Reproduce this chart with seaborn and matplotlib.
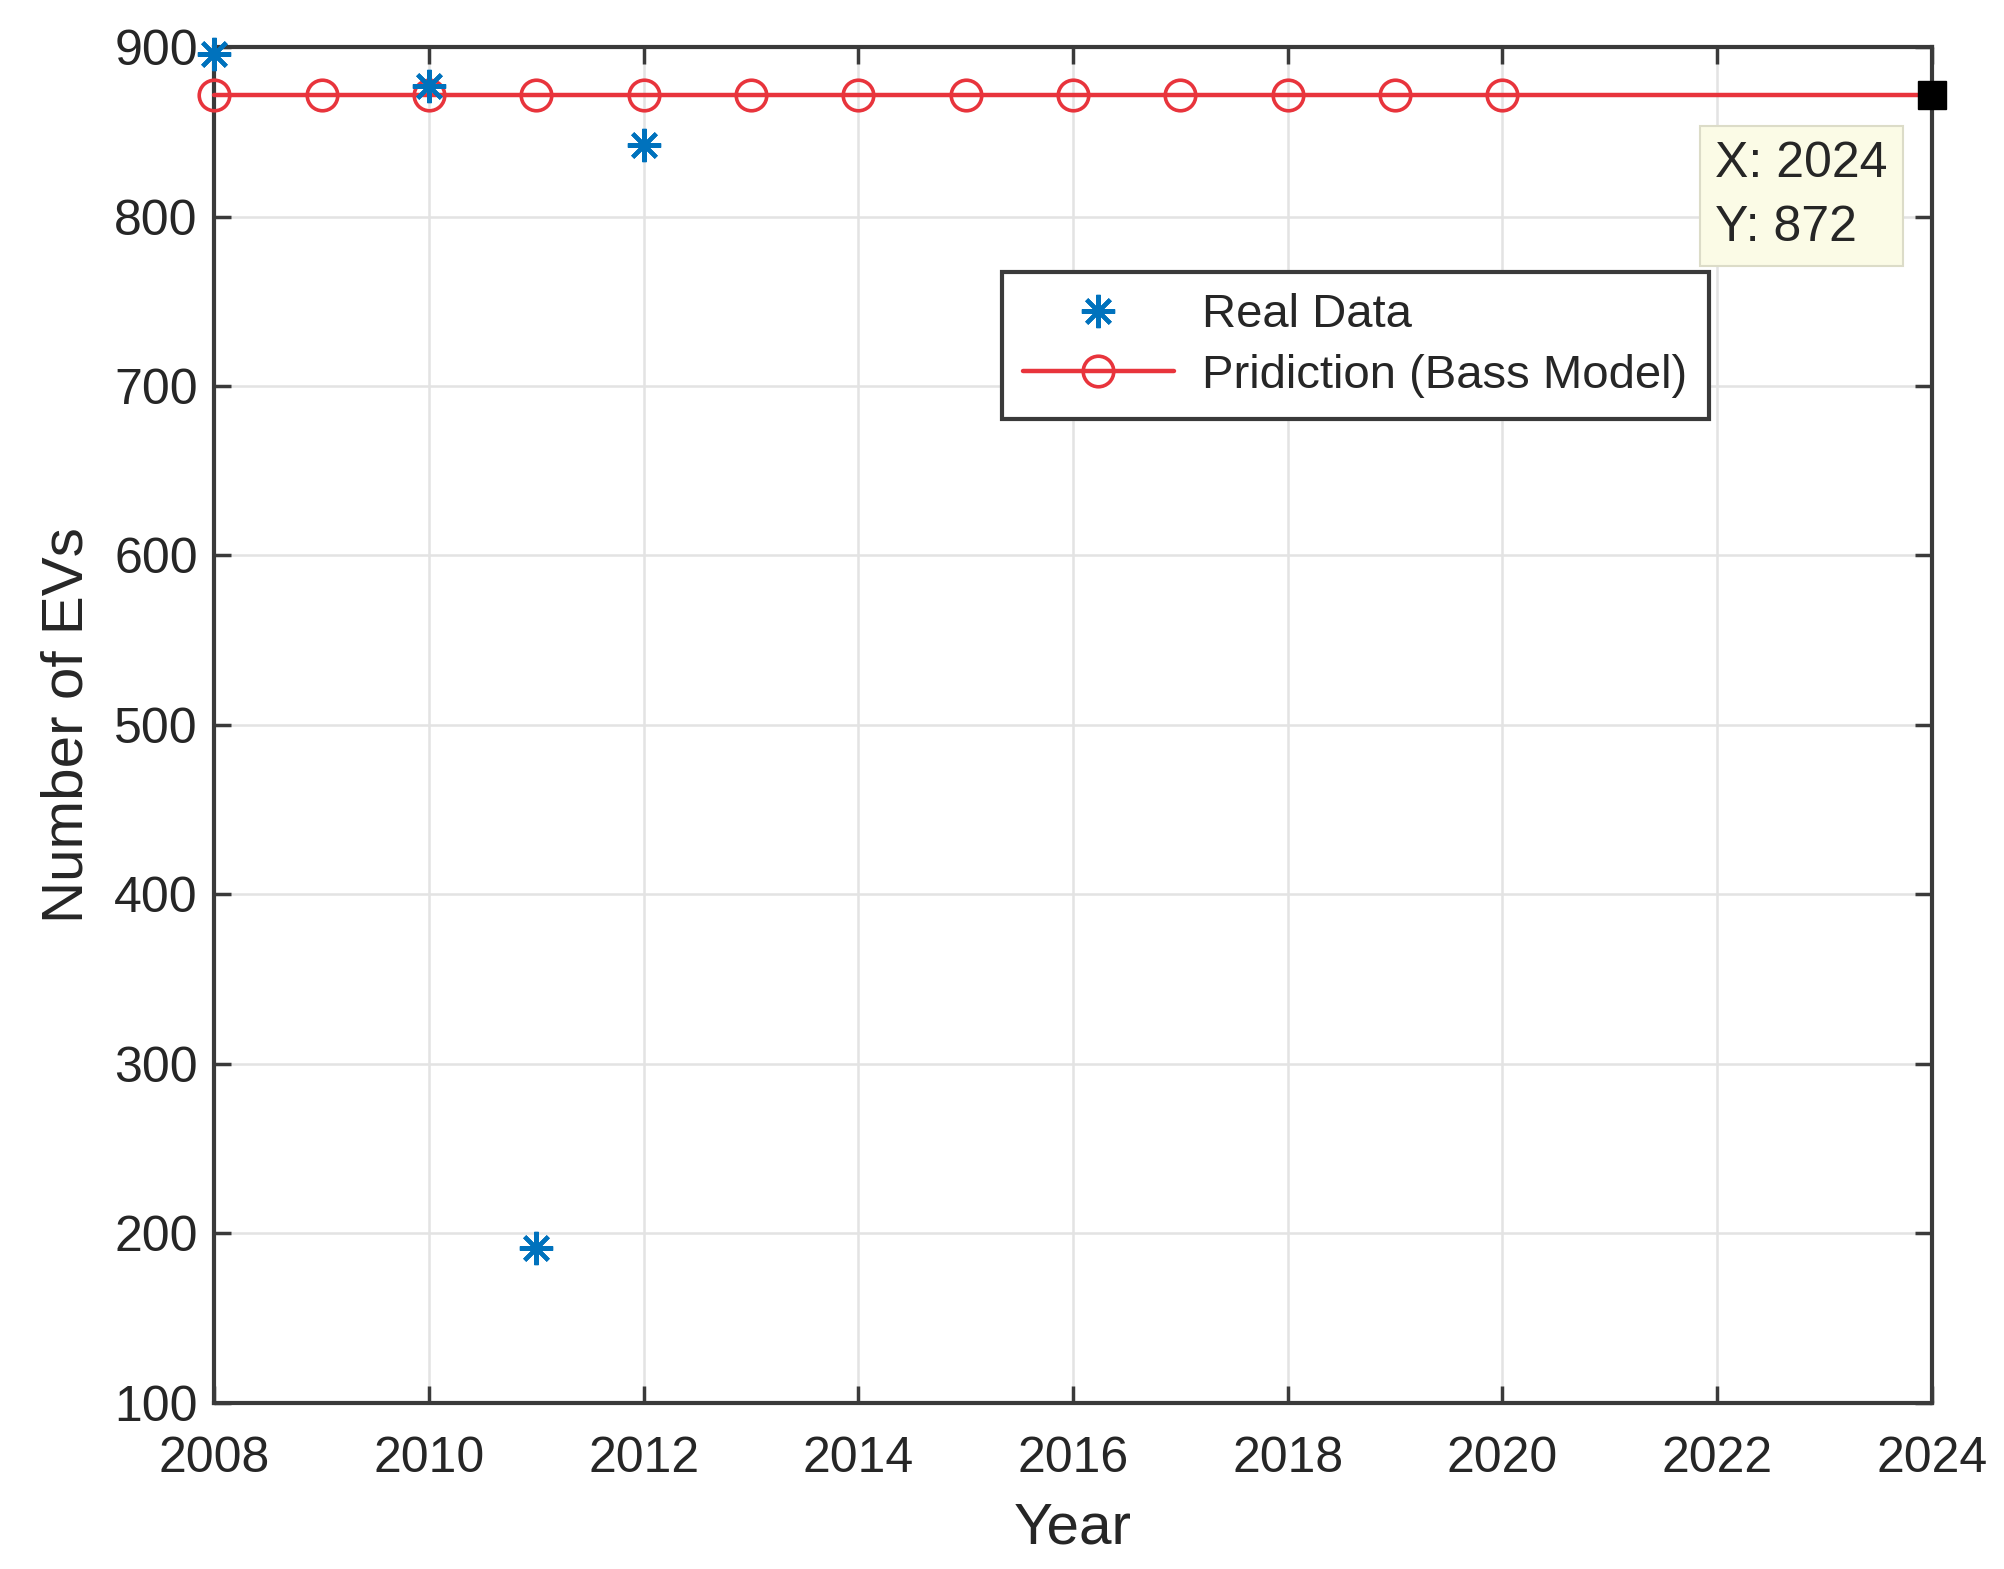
import numpy as np
import pandas as pd
import matplotlib
matplotlib.use("Agg")
import matplotlib.pyplot as plt
import seaborn as sns

# Data
real_years = [2008, 2010, 2011, 2012]
real_values = [896, 877, 191, 842]

pred_years = list(range(2008, 2025))
pred_values = [872] * len(pred_years)
pred_marker_years = list(range(2008, 2021))

tip_x, tip_y = 2024, 872

real_df = pd.DataFrame({"Year": real_years, "EVs": real_values})
pred_df = pd.DataFrame({"Year": pred_years, "EVs": pred_values})

sns.set_theme(style="whitegrid")
plt.rcParams["font.family"] = ["Liberation Sans", "DejaVu Sans"]
text_col = "#262626"

fig = plt.figure(figsize=(20.04, 15.69), dpi=100)
ax = fig.add_axes([0.107, 0.106, 0.857, 0.864])
ax.set_facecolor("white")

# prediction line, markers only on 2008-2020
mark_idx = [pred_years.index(y) for y in pred_marker_years]
sns.lineplot(data=pred_df, x="Year", y="EVs", ax=ax, color="#e8343c", linewidth=3.2,
             marker="o", markersize=22, markerfacecolor="none", markeredgecolor="#e8343c",
             markeredgewidth=2.6, markevery=mark_idx, label="Pridiction (Bass Model)", zorder=3)

sns.lineplot(data=real_df, x="Year", y="EVs", ax=ax, color="#0072BD", linestyle="none",
             marker=(8, 2, 0), markersize=24, markeredgewidth=3, markeredgecolor="#0072BD",
             label="Real Data", zorder=4)
for ln in ax.lines:
    ln.set_clip_on(False)

# data tip
ax.plot([tip_x], [tip_y], marker="s", markersize=20, color="black", linestyle="none",
        clip_on=False, zorder=6)
ax.text(2021.98, 812, f"X: {tip_x}\nY: {tip_y}", fontsize=36, color=text_col,
        ha="left", va="center", linespacing=1.5, zorder=7,
        bbox=dict(boxstyle="square,pad=0.3", facecolor="#fbfbe6", edgecolor="#dcdcc8", linewidth=1.5))

ax.set_xlim(2008, 2024)
ax.set_ylim(100, 900)
ax.set_xticks(np.arange(2008, 2025, 2))
ax.set_yticks(np.arange(100, 901, 100))

ax.grid(True, color="#e3e3e3", linewidth=1.8)
for s in ax.spines.values():
    s.set_visible(True)
    s.set_color("#3a3a3a")
    s.set_linewidth(3)

ax.tick_params(axis="both", which="both", direction="in", length=12, width=2.5, color="#3a3a3a",
               labelsize=36, labelcolor=text_col, top=True, right=True, bottom=True, left=True)
ax.tick_params(axis="x", pad=24)
ax.tick_params(axis="y", pad=12)

ax.set_xlabel("Year", fontsize=42, color=text_col, labelpad=14)
ax.set_ylabel("Number of EVs", fontsize=42, color=text_col, labelpad=14)

# legend order: Real Data first
handles, labels = ax.get_legend_handles_labels()
order = [labels.index("Real Data"), labels.index("Pridiction (Bass Model)")]
leg = ax.legend([handles[i] for i in order], [labels[i] for i in order],
                loc="upper right", bbox_to_anchor=(0.870, 0.834), borderaxespad=0,
                fontsize=34, frameon=True, fancybox=False, framealpha=1, edgecolor="#3a3a3a",
                handlelength=3.2, borderpad=0.45, labelspacing=0.35, handletextpad=0.6)
leg.get_frame().set_linewidth(3)
for t in leg.get_texts():
    t.set_color(text_col)

fig.savefig("out.png", dpi=100, facecolor="white")
